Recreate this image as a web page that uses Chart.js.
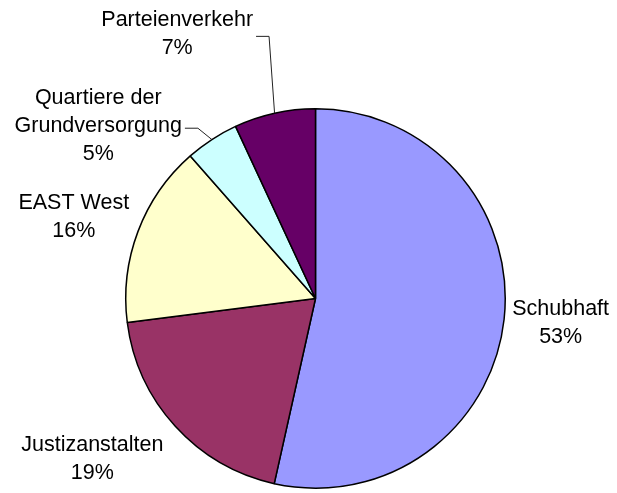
<!DOCTYPE html>
<html>
<head>
<meta charset="utf-8">
<script src="https://cdn.jsdelivr.net/npm/chart.js@4.4.0/dist/chart.umd.min.js"></script>
<style>
  html, body { margin: 0; padding: 0; background: #fff; }
  canvas { display: block; }
</style>
</head>
<body>
<canvas id="pie" width="617" height="493"></canvas>
<script>
const categories = ['Schubhaft', 'Justizanstalten', 'EAST West', 'Quartiere der Grundversorgung', 'Parteienverkehr'];
const shares = [53.49, 19.49, 15.55, 4.55, 6.92];
const sliceColors = ['#9999ff', '#993366', '#ffffcc', '#ccffff', '#660066'];

// how each label is broken into lines
const labelLines = [['Schubhaft'], ['Justizanstalten'], ['EAST West'], ['Quartiere der', 'Grundversorgung'], ['Parteienverkehr']];
// label box centre relative to the pie centre, in radius units
const labelSpots = [[1.292, 0.129], [-1.176, 0.845], [-1.274, -0.429], [-1.145, -0.908], [-0.729, -1.392]];
const hasLeader = [false, false, false, true, true];

const labelFont = '21.5px "Liberation Sans", Arial, sans-serif';
const lineHeight = 28;

// draws the outside labels (name + percent) and leader lines
const outsideLabels = {
  id: 'outsideLabels',
  afterDraw(chart) {
    const ctx = chart.ctx;
    const meta = chart.getDatasetMeta(0);
    const data = chart.data.datasets[0].data;
    const total = data.reduce((a, b) => a + b, 0);

    ctx.save();
    ctx.font = labelFont;
    ctx.fillStyle = '#000';
    ctx.textAlign = 'center';
    ctx.textBaseline = 'middle';

    meta.data.forEach((arc, i) => {
      const p = arc.getProps(['x', 'y', 'outerRadius', 'startAngle', 'endAngle'], true);
      const r = p.outerRadius;
      const mid = (p.startAngle + p.endAngle) / 2;
      const pct = Math.round(data[i] / total * 100) + '%';
      const lines = labelLines[i].concat([pct]);
      const cx = p.x + labelSpots[i][0] * r;
      const cy = p.y + labelSpots[i][1] * r;

      let widest = 0;
      lines.forEach((txt, j) => {
        const ly = cy + (j - (lines.length - 1) / 2) * lineHeight;
        ctx.fillText(txt, cx, ly);
        widest = Math.max(widest, ctx.measureText(txt).width);
      });

      if (hasLeader[i]) {
        const sx = cx + widest / 2 + 3;
        ctx.beginPath();
        ctx.strokeStyle = '#222';
        ctx.lineWidth = 1;
        ctx.moveTo(sx, cy + 2);
        ctx.lineTo(sx + 13, cy + 2);
        ctx.lineTo(p.x + r * Math.cos(mid), p.y + r * Math.sin(mid));
        ctx.stroke();
      }
    });
    ctx.restore();
  }
};

new Chart(document.getElementById('pie'), {
  type: 'pie',
  data: {
    labels: categories,
    datasets: [
      {
        data: shares,
        backgroundColor: sliceColors,
        borderColor: '#000',
        borderWidth: 1.5,
      },
    ],
  },
  options: {
    responsive: false,
    animation: false,
    layout: {
      padding: { top: 108, bottom: 4, left: 125, right: 111 }
    },
    plugins: {
      legend: { display: false },
      tooltip: { enabled: false },
    },
  },
  plugins: [outsideLabels],
});
</script>
</body>
</html>
